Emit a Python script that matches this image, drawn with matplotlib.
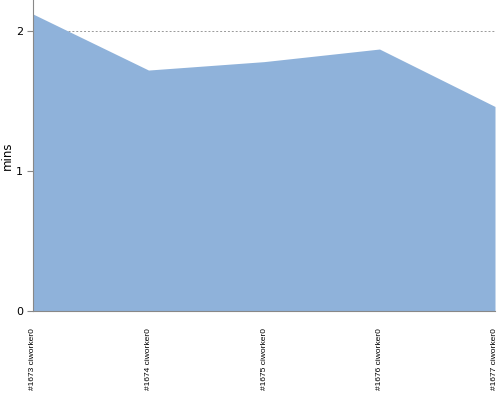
import matplotlib
matplotlib.use("Agg")
import matplotlib.pyplot as plt

categories = ["#1673 ciworker0", "#1674 ciworker0", "#1675 ciworker0", "#1676 ciworker0", "#1677 ciworker0"]
values = [2.12, 1.72, 1.78, 1.87, 1.46]

fig = plt.figure(figsize=(5, 4), dpi=100)
ax = fig.add_axes([0.066, 0.2225, 0.924, 0.7775])
x = list(range(len(categories)))
ax.fill_between(x, values, 0, color="#8fb2da", linewidth=0)
ax.set_xlim(0, len(categories) - 1)
ax.set_ylim(0, 2.22)
ax.set_yticks([0, 1, 2])
ax.set_yticklabels(["0", "1", "2"], fontsize=8)
ax.set_xticks(x)
ax.set_xticklabels(categories, rotation=90, fontsize=6, family="Liberation Sans")
ax.tick_params(axis="x", length=0, pad=12)
ax.tick_params(axis="y", length=4, color="#888888", pad=3)
for y in [1, 2]:
    ax.axhline(y, color="#999999", linestyle=(0, (2, 2)), linewidth=0.7, zorder=0)
for s in ["top", "right"]:
    ax.spines[s].set_visible(False)
ax.spines["left"].set_color("#888888")
ax.spines["bottom"].set_color("#888888")
ax.set_ylabel("mins", fontsize=8.5, labelpad=2)
fig.savefig("out.png", dpi=100)
